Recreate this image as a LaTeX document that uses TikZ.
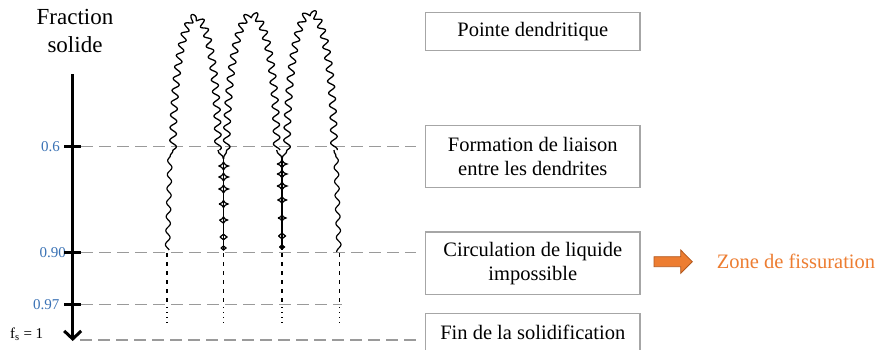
\documentclass[tikz,border=0pt]{standalone}
\usepackage{fontspec}
\setmainfont{Liberation Serif}
\usetikzlibrary{arrows.meta}
\definecolor{boxgray}{HTML}{A6A6A6}
\definecolor{dashgray}{HTML}{9A9A9A}
\definecolor{numblue}{HTML}{3A72B5}
\definecolor{orfill}{HTML}{ED7D31}
\definecolor{ordraw}{HTML}{B2581E}
\newcommand\wamp{3.3}
\newcommand\wlen{13}
% #1 cx, #2 top y, #3 half width, #4 height
\newcommand\dendarch[4]{%
  \draw[dendline]
    plot[domain=0:90, samples=260, variable=\t]
      ({#1 - #3*cos(\t) + \wamp*sin((#4*sin(\t) + #3*(1-cos(\t)))/\wlen*360)*cos(\t)/sqrt(cos(\t)^2 + (#3/#4*sin(\t))^2)},
       {#2 + #4*(1-sin(\t)) + \wamp*sin((#4*sin(\t) + #3*(1-cos(\t)))/\wlen*360)*(#3/#4)*sin(\t)/sqrt(cos(\t)^2 + (#3/#4*sin(\t))^2)})
    -- plot[domain=90:180, samples=260, variable=\t]
      ({#1 - #3*cos(\t) + \wamp*sin((#4*(2-sin(\t)) + #3*(1-cos(\t)))/\wlen*360)*cos(\t)/sqrt(cos(\t)^2 + (#3/#4*sin(\t))^2)},
       {#2 + #4*(1-sin(\t)) + \wamp*sin((#4*(2-sin(\t)) + #3*(1-cos(\t)))/\wlen*360)*(#3/#4)*sin(\t)/sqrt(cos(\t)^2 + (#3/#4*sin(\t))^2)});
}
% #1 x, #2 y, #3 half width
\newcommand\bridgestar[3]{%
  \draw[bridge] ({#1-#3},#2) .. controls ({#1-0.3*#3},{#2-0.25*#3}) .. (#1,{#2-0.8*#3})
    .. controls ({#1+0.3*#3},{#2-0.25*#3}) .. ({#1+#3},#2)
    .. controls ({#1+0.3*#3},{#2+0.25*#3}) .. (#1,{#2+0.8*#3})
    .. controls ({#1-0.3*#3},{#2+0.25*#3}) .. ({#1-#3},#2);
}
\begin{document}
\begin{tikzpicture}[x=1pt,y=-1pt,
  stagebox/.style={draw=boxgray, line width=1.3pt, minimum width=214.3pt, inner sep=0pt,
    align=center, font=\fontsize{20.5}{24}\selectfont},
  levelline/.style={draw=dashgray, line width=1.2pt, dash pattern=on 12pt off 6pt},
  axtick/.style={line width=2.5pt},
  numlab/.style={text=numblue, inner sep=0pt, font=\fontsize{15}{18}\selectfont},
  dendline/.style={line width=1.3pt, line join=round},
  stemline/.style={line width=1.2pt},
  bridge/.style={line width=1.2pt},
  rootdash/.style={line width=1.4pt, dash pattern=on 4pt off 5pt},
  rootdot/.style={line width=1.1pt, dash pattern=on 1pt off 4pt}]
\useasboundingbox (0,0) rectangle (877,349);
\clip (0,0) rectangle (877,349);
\fill[white] (0,0) rectangle (877,349);

% stage boxes
\node[stagebox, minimum height=38pt] (b1) at (532.8,31.7) {Pointe dendritique};
\node[stagebox, minimum height=62.4pt] (b2) at (532.8,156.5) {Formation de liaison\\entre les dendrites};
\node[stagebox, minimum height=62.3pt] (b3) at (532.8,263.2) {Circulation de liquide\\impossible};
\node[stagebox, minimum height=38pt] (b4) at (532.8,332.3) {Fin de la solidification};

% axis title and labels
\node[anchor=north, inner sep=0pt, align=center, font=\fontsize{23}{28}\selectfont] (title) at (75,9.3) {Fraction\\solide};
\node[numlab, anchor=east] (l06) at (60,146.7) {0.6};
\node[numlab, anchor=east] (l90) at (66,252.7) {0.90};
\node[numlab, anchor=east] (l97) at (59.5,304.3) {0.97};
\node[anchor=base west, inner sep=0pt, font=\fontsize{15}{18}\selectfont] (lfs) at (10,338) {f\textsubscript{s} = 1};

% axis
\coordinate (axtop) at (72.7,74);
\coordinate (axbot) at (72.7,341);
\draw[line width=3pt, -{Straight Barb[length=8pt,width=17pt]}] (axtop) -- (axbot);
\draw[axtick] (64,146.7) -- (81,146.7);
\draw[axtick] (64,252.7) -- (81,252.7);
\draw[axtick] (64,304.3) -- (81,304.3);

% level lines
\coordinate (s06) at (81,146.7);
\coordinate (s90) at (81,252.7);
\coordinate (s97) at (81,304.3);
\coordinate (s100) at (80,340);
\draw[levelline] (s06) -- ([xshift=-9pt]b2.west |- s06);
\draw[levelline] (s90) -- ([xshift=-9pt]b3.west |- s90);
\draw[levelline] (s97) -- (342,304.3);
\draw[levelline] (s100) -- ([xshift=-9pt]b4.west |- s100);

% dendrites (upper part)
\dendarch{195.5}{17}{22.5}{133}
\dendarch{251.7}{14.3}{25}{135.7}
\dendarch{310.5}{12.3}{23.5}{137.7}

% junctions below the coherency line
\draw[dendline] (173,150) .. controls (173,154) and (170,153) .. (170,157);
\draw[dendline] (218,150) .. controls (218,155) and (223.5,154) .. (223.5,159);
\draw[dendline] (226.7,150) .. controls (226.7,155) and (223.5,154) .. (223.5,159);
\draw[dendline] (276.7,150) .. controls (276.7,155) and (282,154) .. (282,159);
\draw[dendline] (287,150) .. controls (287,155) and (282,154) .. (282,159);
\draw[dendline] (334,150) .. controls (334,154) and (336,153) .. (336,157);

% lower part
\draw[stemline] plot[domain=157:250, samples=120, variable=\y] ({170 - 2.5*(\y-157)/93 - 2.2*sin((\y-157)/14*360)}, \y);
\draw[stemline] plot[domain=157:252, samples=120, variable=\y] ({336 + 3*(\y-157)/95 + 2.2*sin((\y-157)/14*360)}, \y);
\draw[bridge] (223.5,159) -- (223.5,250);
\draw[bridge] (282,159) -- (282,250);
\foreach \yy/\s in {166/5,177/5,189/5,204/4.5,220/4,237/3.5,248/2.5}{
  \bridgestar{223.5}{\yy}{\s}
}
\foreach \yy/\s in {164/5,174/5,186/5,200/4.5,218/4,236/3.5,247/2.5}{
  \bridgestar{282}{\yy}{\s}
}

% roots
\foreach \xx in {167,223.5,282,339.5}{
  \draw[rootdash] (\xx,253) -- (\xx,305);
  \draw[rootdot] (\xx,307) -- (\xx,324);
}

% orange arrow and result
\filldraw[fill=orfill, draw=ordraw, line width=0.8pt] (654,256.7) -- (680.7,256.7) -- (680.7,250) -- (692.3,261.7) -- (680.7,273.3) -- (680.7,266.7) -- (654,266.7) -- cycle;
\node[anchor=base west, inner sep=0pt, text=orfill, font=\fontsize{20.5}{24}\selectfont] (zone) at (716.7,268.3) {Zone de fissuration};
\end{tikzpicture}
\end{document}
